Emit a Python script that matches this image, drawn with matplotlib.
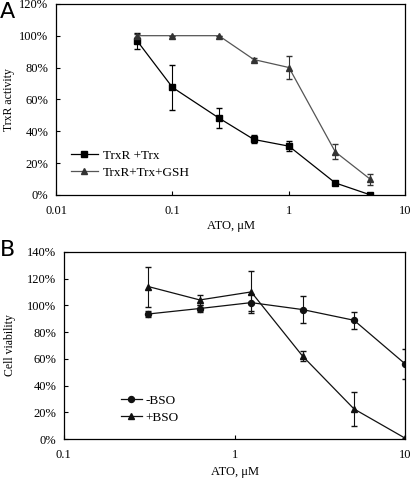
import matplotlib
matplotlib.use("Agg")
import matplotlib.pyplot as plt
from matplotlib.ticker import FuncFormatter, FixedLocator, NullLocator

# Panel A data
atoA = [0.05, 0.1, 0.25, 0.5, 1, 2.5, 5]
trx = [96.5, 67.5, 48.3, 34.8, 30.6, 7.5, 0]
trx_err = [5, 14, 6.5, 2.5, 3, 0.8, 0.5]
gsh = [100, 100, 100, 85, 80, 27, 9.8]
gsh_err = [1, 0, 0, 1, 7.2, 4.7, 3.5]

# Panel B data
atoB = [0.3125, 0.625, 1.25, 2.5, 5, 10]
minus_bso = [93.5, 97.6, 102, 96.8, 88.8, 56]
minus_err = [2.2, 2.5, 6.5, 10, 6.5, 11]
plus_bso = [114, 104, 110, 62, 22.5, 0.5]
plus_err = [15, 4, 15.5, 4, 13, 0.5]

plt.rcParams["font.family"] = ["Liberation Serif", "DejaVu Serif"]

fig = plt.figure(figsize=(4.12, 4.80), dpi=100)
pct = FuncFormatter(lambda v, p: f"{v:.0f}%")


def style_axis(ax, xticks, ymax):
    ax.set_xscale("log")
    ax.xaxis.set_major_locator(FixedLocator(xticks))
    ax.xaxis.set_minor_locator(NullLocator())
    ax.set_xticklabels([f"{t:g}" for t in xticks])
    ax.set_xlim(xticks[0], xticks[-1])
    ax.set_ylim(0, ymax)
    ax.set_yticks(range(0, ymax + 1, 20))
    ax.yaxis.set_major_formatter(pct)
    ax.tick_params(direction="in", length=3, width=0.8, labelsize=9)
    ax.tick_params(axis="x", pad=7.5)
    ax.tick_params(axis="y", pad=5.5)
    for s in ax.spines.values():
        s.set_linewidth(0.9)


def series(ax, x, y, err, color, marker, ms, label, mcolor=None):
    mcolor = mcolor or color
    ax.errorbar(x, y, yerr=err, fmt="none", ecolor=mcolor, elinewidth=0.8, capsize=2.2)
    ax.plot(x, y, color=color, marker=marker, ms=ms, mfc=mcolor, mec=mcolor, lw=0.9, label=label)


# Panel A
axA = fig.add_axes([0.136, 0.594, 0.848, 0.398])
series(axA, atoA, trx, trx_err, "black", "s", 4.5, "TrxR +Trx")
series(axA, atoA, gsh, gsh_err, "#555555", "^", 5, "TrxR+Trx+GSH", mcolor="#333333")
style_axis(axA, [0.01, 0.1, 1, 10], 120)
axA.set_xlabel("ATO, \u03bcM", fontsize=9, labelpad=2)
axA.set_ylabel("TrxR activity", fontsize=8.5, labelpad=3)
axA.legend(loc="lower left", bbox_to_anchor=(0.013, 0.03), frameon=False, borderpad=0.3,
           fontsize=9.5, handlelength=2.0, handletextpad=0.4, labelspacing=0.35)
fig.text(0.0, 0.995, "A", fontsize=16, family="DejaVu Sans", va="top", ha="left")

# Panel B
axB = fig.add_axes([0.155, 0.0854, 0.829, 0.39])
series(axB, atoB, minus_bso, minus_err, "#111111", "o", 4.3, "-BSO")
series(axB, atoB, plus_bso, plus_err, "#111111", "^", 4.8, "+BSO")
style_axis(axB, [0.1, 1, 10], 140)
axB.set_xlabel("ATO, \u03bcM", fontsize=9, labelpad=3.5)
axB.set_ylabel("Cell viability", fontsize=8.5, labelpad=8)
axB.legend(loc="lower left", bbox_to_anchor=(0.135, 0.025), frameon=False, borderpad=0.3,
           fontsize=9.5, handlelength=1.6, handletextpad=0.3, labelspacing=0.35)
fig.text(0.0, 0.50, "B", fontsize=16, family="DejaVu Sans", va="top", ha="left")

fig.savefig("out.png", dpi=100)
